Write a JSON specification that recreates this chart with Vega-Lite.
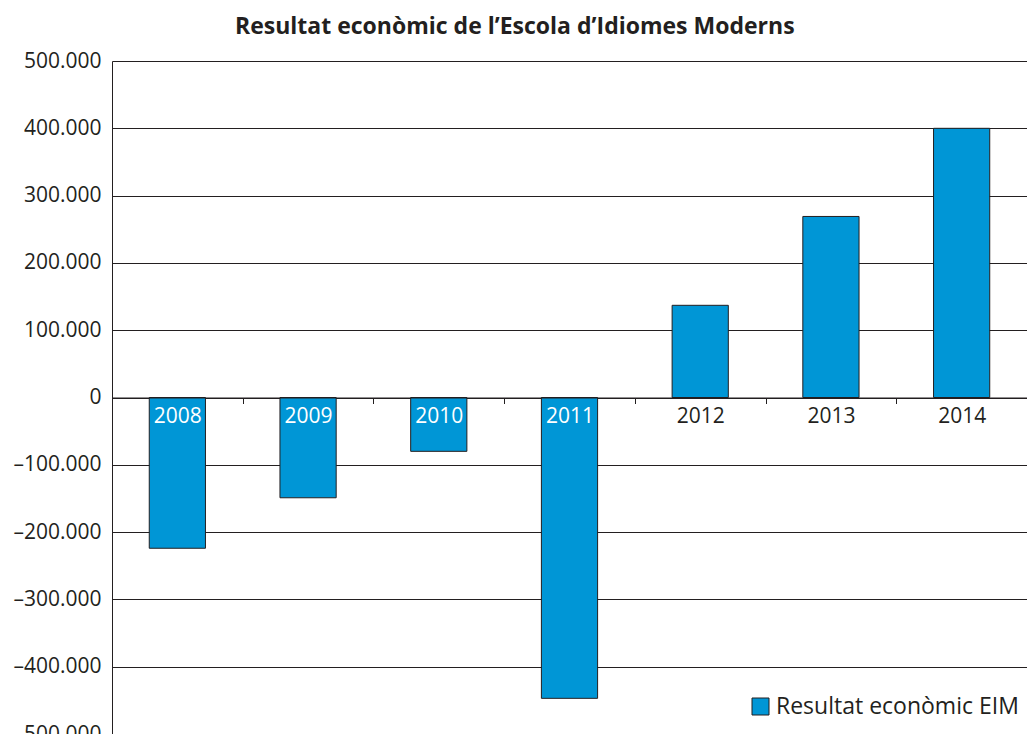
{
  "$schema": "https://vega.github.io/schema/vega-lite/v6.json",
  "autosize": {"type": "none"},
  "padding": {"left": 112, "top": 61, "right": 0, "bottom": 0},
  "width": 915,
  "height": 673,
  "background": "white",
  "config": {"view": {"stroke": null}, "font": "Open Sans"},
  "title": {
    "text": "Resultat econòmic de l’Escola d’Idiomes Moderns",
    "font": "Open Sans",
    "fontSize": 23,
    "fontWeight": "bold",
    "color": "#231f20",
    "anchor": "start",
    "frame": "group",
    "dx": 123,
    "offset": 11
  },
  "data": {
    "values": [
      {"any": "2008", "valor": -224000, "serie": "Resultat econòmic EIM"},
      {"any": "2009", "valor": -149000, "serie": "Resultat econòmic EIM"},
      {"any": "2010", "valor": -80000, "serie": "Resultat econòmic EIM"},
      {"any": "2011", "valor": -447000, "serie": "Resultat econòmic EIM"},
      {"any": "2012", "valor": 137000, "serie": "Resultat econòmic EIM"},
      {"any": "2013", "valor": 269000, "serie": "Resultat econòmic EIM"},
      {"any": "2014", "valor": 400000, "serie": "Resultat econòmic EIM"}
    ]
  },
  "mark": {"type": "bar", "width": {"band": 0.43}, "stroke": "#231f20", "strokeWidth": 1},
  "encoding": {
    "x": {
      "field": "any",
      "type": "ordinal",
      "scale": {"paddingInner": 0, "paddingOuter": 0},
      "axis": {
        "title": null,
        "orient": "bottom",
        "offset": -336.5,
        "labelAngle": 0,
        "tickBand": "extent",
        "ticks": true,
        "tickSize": 6,
        "tickColor": "#231f20",
        "domainColor": "#231f20",
        "labelFontSize": 21,
        "labelPadding": 2,
        "labelFont": "Open Sans",
        "labelColor": {"condition": {"test": "datum.value < '2012'", "value": "white"}, "value": "#231f20"},
        "zindex": 1,
        "grid": false
      }
    },
    "y": {
      "field": "valor",
      "type": "quantitative",
      "scale": {"domain": [-500000, 500000], "nice": false},
      "axis": {
        "title": null,
        "values": [-500000, -400000, -300000, -200000, -100000, 0, 100000, 200000, 300000, 400000, 500000],
        "labelExpr": "datum.value == 0 ? '0' : (datum.value < 0 ? '–' : '') + format(abs(datum.value) / 1000, 'd') + '.000'",
        "grid": true,
        "gridColor": "#231f20",
        "gridOpacity": 1,
        "gridWidth": 1,
        "ticks": false,
        "domainColor": "#231f20",
        "labelFontSize": 21,
        "labelPadding": 11,
        "labelColor": "#231f20",
        "labelFont": "Open Sans",
        "zindex": 0
      }
    },
    "color": {
      "field": "serie",
      "type": "nominal",
      "scale": {"range": ["#0096d6"]},
      "legend": {
        "title": null,
        "orient": "none",
        "legendX": 637,
        "legendY": 634,
        "padding": 0,
        "symbolType": "square",
        "symbolSize": 289,
        "symbolStrokeColor": "#231f20",
        "symbolStrokeWidth": 1,
        "symbolOpacity": 1,
        "labelFontSize": 23,
        "labelLimit": 400,
        "labelFont": "Open Sans",
        "labelColor": "#231f20",
        "labelOffset": 4
      }
    }
  }
}
